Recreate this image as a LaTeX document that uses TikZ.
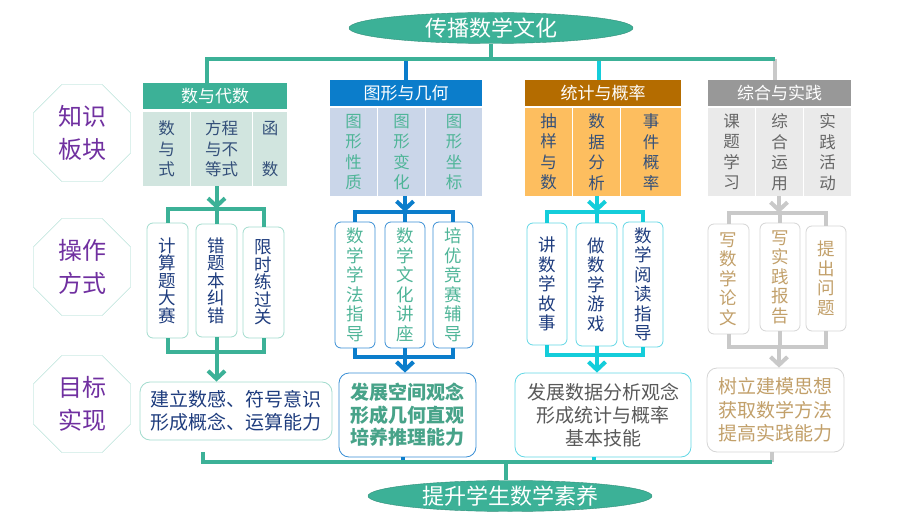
\documentclass[tikz,border=0pt]{standalone}
\usepackage{fontspec}
\setmainfont{Noto Sans CJK SC}
\usetikzlibrary{shapes.geometric, arrows.meta, positioning}

\definecolor{tealc}{HTML}{3CB197}
\definecolor{bluec}{HTML}{0B7DCB}
\definecolor{cyanc}{HTML}{14CDDA}
\definecolor{grayc}{HTML}{C9C9C9}
\definecolor{tealcell}{HTML}{D1E5DF}
\definecolor{bluecell}{HTML}{CAD6E9}
\definecolor{orangehead}{HTML}{B46C00}
\definecolor{orangecell}{HTML}{FDBE5F}
\definecolor{grayhead}{HTML}{989898}
\definecolor{graycell}{HTML}{EAEAEA}
\definecolor{lightteal}{HTML}{A3DCCE}
\definecolor{lightblue}{HTML}{3A8FD5}
\definecolor{lightcyan}{HTML}{62D7E5}
\definecolor{lightgray}{HTML}{D5D5D5}
\definecolor{navytext}{HTML}{1F3D7E}
\definecolor{slatetext}{HTML}{34507A}
\definecolor{greentext}{HTML}{4FB598}
\definecolor{goldtext}{HTML}{C2A06A}
\definecolor{purpletext}{HTML}{7030A0}
\definecolor{octline}{HTML}{9ED6CB}

\tikzset{
    head/.style={minimum height=26pt, inner sep=0pt, text=white, font=\fontsize{17}{17}\selectfont},
    cell/.style={inner sep=0pt, align=center, font=\fontsize{16.5}{20.5}\selectfont},
    opbox/.style={draw, line width=0.8pt, rounded corners=6pt, fill=white, inner sep=0pt, align=center, minimum width=41pt, font=\fontsize{17.5}{19.5}\selectfont},
    goal/.style={draw, line width=0.8pt, rounded corners=10pt, fill=white, inner sep=0pt, align=center, font=\fontsize{19}{23}\selectfont},
    oct/.style={regular polygon, regular polygon sides=8, draw=octline, minimum size=105pt, inner sep=0pt, align=center, text=purpletext, font=\fontsize{24}{33}\selectfont},
    oval/.style={ellipse, fill=tealc, draw=tealc!80!black, line width=0.4pt, minimum width=284pt, minimum height=31pt, inner sep=0pt, text=white, font=\fontsize{22}{22}\selectfont},
    link/.style={line width=4pt},
    tip/.style={-{Straight Barb[length=8pt,width=17pt]}}
}

\begin{document}
\begin{tikzpicture}[x=1pt, y=-1pt]
    \useasboundingbox (0,0) rectangle (920,518);

    % Ovals
    \node[oval] (top) at (491,28) {传播数学文化};
    \node[oval] (bottom) at (510,496) {提升学生数学素养};

    % Row labels
    \node[oct] (know) at (82,133) {知识\\板块};
    \node[oct] (oper) at (82,267) {操作\\方式};
    \node[oct] (aim) at (82,404) {目标\\实现};

    % Column 1: headers and cells
    \node[head, fill=tealc, minimum width=144pt] (h1) at (215,96.5) {数与代数};
    \node[cell, fill=tealcell, text=slatetext, minimum width=47pt, minimum height=74pt] (c11) at (166.5,149) {数\\与\\式};
    \node[cell, fill=tealcell, text=slatetext, minimum width=61pt, minimum height=74pt] (c12) at (221.5,149) {方程\\与不\\等式};
    \node[cell, fill=tealcell, text=slatetext, minimum width=34pt, minimum height=74pt] (c13) at (270,149) {函\\~\\数};

    % Column 2
    \node[head, fill=bluec, minimum width=152pt] (h2) at (406,93) {图形与几何};
    \node[cell, fill=bluecell, text=greentext, minimum width=47pt, minimum height=88pt] (c21) at (353.5,152) {图\\形\\性\\质};
    \node[cell, fill=bluecell, text=greentext, minimum width=47pt, minimum height=88pt] (c22) at (401.5,152) {图\\形\\变\\化};
    \node[cell, fill=bluecell, text=greentext, minimum width=56pt, minimum height=88pt] (c23) at (454,152) {图\\形\\坐\\标};

    % Column 3
    \node[head, fill=orangehead, minimum width=156pt] (h3) at (603,93) {统计与概率};
    \node[cell, fill=orangecell, text=slatetext, minimum width=47pt, minimum height=88pt] (c31) at (548.5,152) {抽\\样\\与\\数};
    \node[cell, fill=orangecell, text=slatetext, minimum width=47pt, minimum height=88pt] (c32) at (596.5,152) {数\\据\\分\\析};
    \node[cell, fill=orangecell, text=slatetext, minimum width=60pt, minimum height=88pt] (c33) at (651,152) {事\\件\\概\\率};

    % Column 4
    \node[head, fill=grayhead, minimum width=143pt] (h4) at (779.5,93) {综合与实践};
    \node[cell, fill=graycell, text=black!60, minimum width=47pt, minimum height=88pt] (c41) at (731.5,152) {课\\题\\学\\习};
    \node[cell, fill=graycell, text=black!60, minimum width=47pt, minimum height=88pt] (c42) at (779.5,152) {综\\合\\运\\用};
    \node[cell, fill=graycell, text=black!60, minimum width=47pt, minimum height=88pt] (c43) at (827.5,152) {实\\践\\活\\动};

    % Operation boxes
    \node[opbox, draw=lightteal, text=navytext, minimum height=115pt, font=\fontsize{17.5}{17.5}\selectfont] (b11) at (167.5,280.5) {计\\算\\题\\大\\赛};
    \node[opbox, draw=lightteal, text=navytext, minimum height=113pt, font=\fontsize{17.5}{17.5}\selectfont] (b12) at (216.5,280.5) {错\\题\\本\\纠\\错};
    \node[opbox, draw=lightteal, text=navytext, minimum height=111pt, font=\fontsize{17.5}{17.5}\selectfont] (b13) at (263.5,282.5) {限\\时\\练\\过\\关};

    \node[opbox, draw=lightblue, text=greentext, minimum height=126pt, minimum width=40pt] (b21) at (355,285) {数\\学\\学\\法\\指\\导};
    \node[opbox, draw=lightblue, text=greentext, minimum height=126pt, minimum width=40pt] (b22) at (405,285) {数\\学\\文\\化\\讲\\座};
    \node[opbox, draw=lightblue, text=greentext, minimum height=126pt, minimum width=40pt] (b23) at (453,285) {培\\优\\竞\\赛\\辅\\导};

    \node[opbox, draw=lightcyan, text=navytext, minimum height=122pt, minimum width=40pt] (b31) at (547,284) {讲\\数\\学\\故\\事};
    \node[opbox, draw=lightcyan, text=navytext, minimum height=123pt] (b32) at (596.5,284.5) {做\\数\\学\\游\\戏};
    \node[opbox, draw=lightcyan, text=navytext, minimum height=125pt, minimum width=40pt] (b33) at (643,284.5) {数\\学\\阅\\读\\指\\导};

    \node[opbox, draw=lightgray, text=goldtext, minimum height=110pt] (b41) at (728.5,279) {写\\数\\学\\论\\文};
    \node[opbox, draw=lightgray, text=goldtext, minimum height=108pt, minimum width=40pt] (b42) at (780,277) {写\\实\\践\\报\\告};
    \node[opbox, draw=lightgray, text=goldtext, minimum height=105pt, minimum width=40pt] (b43) at (826,278.5) {提\\出\\问\\题};

    % Goals
    \node[goal, draw=lightteal, text=navytext, minimum width=192pt, minimum height=58pt] (g1) at (236,411) {建立数感、符号意识\\形成概念、运算能力};
    \node[goal, draw=lightblue, text=greentext!90!black, minimum width=137pt, minimum height=84pt, font=\fontsize{19}{22.5}\selectfont\bfseries] (g2) at (407.5,415) {发展空间观念\\形成几何直观\\培养推理能力};
    \node[goal, draw=lightcyan, text=black!65, minimum width=176pt, minimum height=84pt] (g3) at (603,415) {发展数据分析观念\\形成统计与概率\\基本技能};
    \node[goal, draw=lightgray, text=goldtext, minimum width=137pt, minimum height=84pt, font=\fontsize{19}{23.5}\selectfont] (g4) at (775.5,410) {树立建模思想\\获取数学方法\\提高实践能力};

    % Top bar
    \coordinate (tl) at (207,59);
    \coordinate (tr) at (775,59);
    \draw[link, bluec] (h2.north) -- (h2.north |- tl);
    \draw[link, cyanc] (h3.north -| 599,0) -- (599,59);
    \draw[link, grayc] (h4.north -| tr) -- (tr);
    \draw[link, tealc] (h1.north -| tl) -- (tl) -- (tr);
    \draw[link, tealc] (top.south) -- (top.south |- tl);

    % Column brackets
    \coordinate (t1) at (216.5,209);
    \coordinate (u1) at (216.5,352);
    \draw[link, tealc] (b11.north) |- (t1) -| (b13.north);
    \draw[link, tealc] (b12.north) -- (b12.north |- t1);
    \draw[link, tealc, tip] (c12.south -| t1) -- (t1);
    \draw[link, tealc] (b11.south) |- (u1) -| (b13.south);
    \draw[link, tealc] (b12.south) -- (u1);
    \draw[link, tealc, tip] (u1) -- (g1.north -| u1);

    \coordinate (t2) at (405,212);
    \coordinate (u2) at (405,357);
    \draw[link, bluec] (b21.north) |- (t2) -| (b23.north);
    \draw[link, bluec] (b22.north) -- (t2);
    \draw[link, bluec, tip] (c22.south -| t2) -- (t2);
    \draw[link, bluec] (b21.south) |- (u2) -| (b23.south);
    \draw[link, bluec] (b22.south) -- (u2);
    \draw[link, bluec, tip] (u2) -- (g2.north -| u2);

    \coordinate (t3) at (597,212);
    \coordinate (u3) at (597,355);
    \draw[link, cyanc] (b31.north) |- (t3) -| (b33.north);
    \draw[link, cyanc] (b32.north) -- (b32.north |- t3);
    \draw[link, cyanc, tip] (c32.south -| t3) -- (t3);
    \draw[link, cyanc] (b31.south) |- (u3) -| (b33.south);
    \draw[link, cyanc] (b32.south) -- (b32.south |- u3);
    \draw[link, cyanc, tip] (u3) -- (g3.north -| u3);

    \coordinate (t4) at (779,213);
    \coordinate (u4) at (779,347);
    \draw[link, grayc] (b41.north) |- (t4) -| (b43.north);
    \draw[link, grayc] (b42.north) -- (b42.north |- t4);
    \draw[link, grayc, tip] (c42.south -| t4) -- (t4);
    \draw[link, grayc] (b41.south) |- (u4) -| (b43.south);
    \draw[link, grayc] (b42.south) -- (b42.south |- u4);
    \draw[link, grayc, tip] (u4) -- (g4.north -| u4);

    % Bottom bar
    \coordinate (bl) at (203,462);
    \coordinate (br) at (772,462);
    \draw[link, bluec] (g2.south -| 403,0) -- (403,462);
    \draw[link, cyanc] (g3.south -| 594,0) -- (594,462);
    \draw[link, grayc] (g4.south -| br) -- (br);
    \draw[link, tealc] (bl |- 0,452) -- (bl) -- (br);
    \draw[link, tealc] (bottom.north -| 506,0) -- (506,462);
\end{tikzpicture}
\end{document}
